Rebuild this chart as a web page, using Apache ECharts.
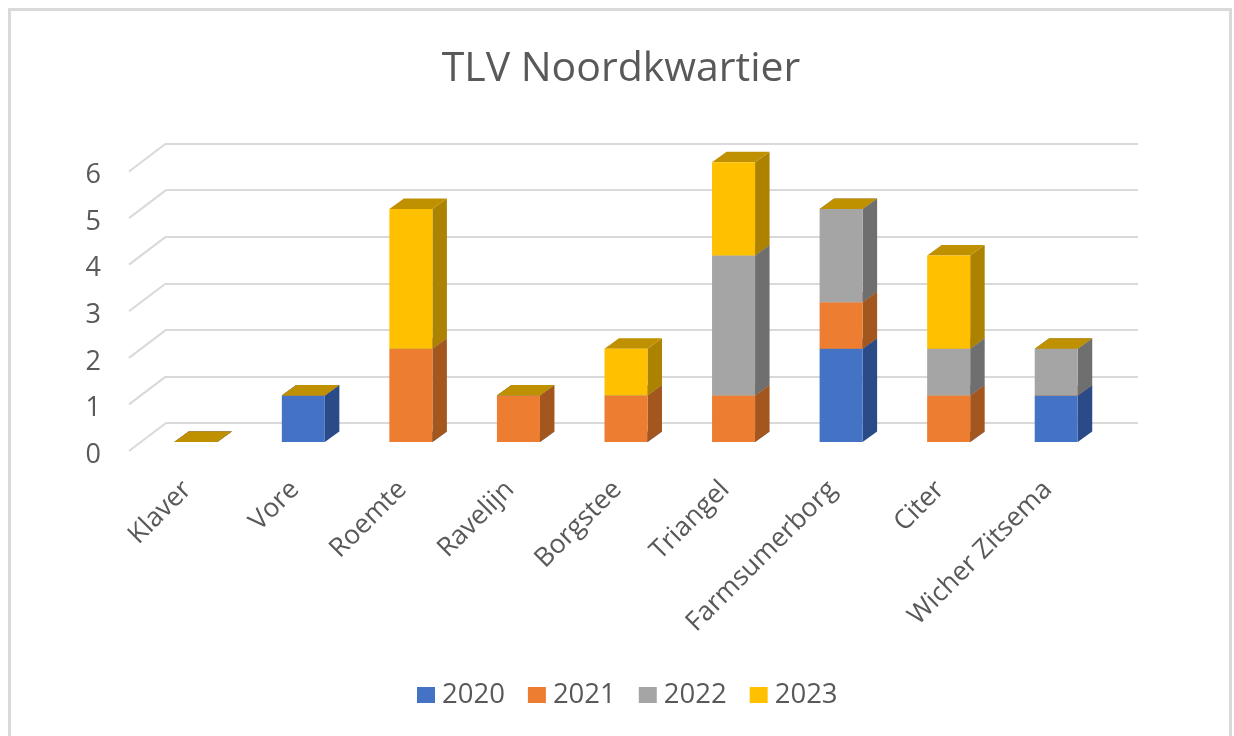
<!DOCTYPE html>
<html>
<head>
<meta charset="utf-8">
<title>TLV Noordkwartier</title>
<script src="https://cdn.jsdelivr.net/npm/echarts@6/dist/echarts.min.js"></script>
<style>
  html, body { margin: 0; padding: 0; background: #fff; }
  #chart { width: 1234px; height: 736px; }
</style>
</head>
<body>
<div id="chart"></div>
<script>
const categories = ['Klaver', 'Vore', 'Roemte', 'Ravelijn', 'Borgstee', 'Triangel', 'Farmsumerborg', 'Citer', 'Wicher Zitsema']
const years = ['2020', '2021', '2022', '2023']
const values2020 = [0, 1, 0, 0, 0, 0, 2, 0, 1]
const values2021 = [0, 0, 2, 1, 1, 1, 1, 1, 0]
const values2022 = [0, 0, 0, 0, 0, 3, 2, 1, 1]
const values2023 = [0, 0, 3, 0, 1, 2, 0, 2, 0]
const yTicks = [0, 1, 2, 3, 4, 5, 6]

const allValues = [values2020, values2021, values2022, values2023]
const frontColors = ['#4472C4', '#ED7D31', '#A5A5A5', '#FFC000']
const sideColors = ['#2A4B87', '#A4561F', '#6F6F6F', '#AD8200']
const topColors = ['#345A9E', '#BC6326', '#848484', '#BF9000']

const textColor = '#595959'
const fontName = '"Open Sans", sans-serif'
// bar depth and wall depth in pixels, this is the fake 3D
const barDepth = [14.5, -10.5]
const wallDepth = [37, -28]

// one stacked year: front face, side face and top face
function barItem (yearIndex) {
  return function (params, api) {
    const i = api.value(0)
    let base = 0
    for (let k = 0; k < yearIndex; k++) base += allValues[k][i]
    const top = base + allValues[yearIndex][i]
    const center = api.coord([i, 0])[0]
    const halfW = api.size([1, 0])[0] * 0.2
    const yBase = api.coord([i, base])[1]
    const yTop = api.coord([i, top])[1]
    const l = center - halfW
    const r = center + halfW
    const dx = barDepth[0]
    const dy = barDepth[1]
    const children = [{
      type: 'polygon',
      shape: { points: [[r, yBase], [r + dx, yBase + dy], [r + dx, yTop + dy], [r, yTop]] },
      style: { fill: sideColors[yearIndex] }
    }, {
      type: 'polygon',
      shape: { points: [[l, yTop], [r, yTop], [r + dx, yTop + dy], [l + dx, yTop + dy]] },
      style: { fill: topColors[yearIndex] }
    }]
    if (top > base) {
      children.push({
        type: 'rect',
        shape: { x: l, y: yTop, width: r - l, height: yBase - yTop },
        style: { fill: frontColors[yearIndex] }
      })
    }
    return { type: 'group', children: children }
  }
}

// the slanted lines on the left wall
function wallItem (params, api) {
  const p = api.coord([0, api.value(0)])
  return {
    type: 'line',
    shape: { x1: p[0], y1: p[1], x2: p[0] + wallDepth[0], y2: p[1] + wallDepth[1] },
    style: { stroke: '#D9D9D9', lineWidth: 2 }
  }
}

const barSeries = years.map(function (year, n) {
  return {
    name: year,
    type: 'custom',
    xAxisIndex: 0,
    yAxisIndex: 0,
    z: 5 + n,
    itemStyle: { color: frontColors[n] },
    renderItem: barItem(n),
    encode: { x: 0, y: 1 },
    data: categories.map(function (c, i) { return [i, allValues[n][i]] })
  }
})

const chart = echarts.init(document.getElementById('chart'))
chart.setOption({
  animation: false,
  backgroundColor: '#fff',
  title: {
    text: 'TLV Noordkwartier',
    left: 616,
    top: 64,
    textAlign: 'center',
    textVerticalAlign: 'middle',
    textStyle: { color: textColor, fontFamily: fontName, fontSize: 41, fontWeight: 'normal' }
  },
  legend: {
    data: years,
    left: 417,
    top: 681,
    padding: 0,
    icon: 'rect',
    itemWidth: 18,
    itemHeight: 16,
    itemGap: 23,
    textStyle: { color: textColor, fontFamily: fontName, fontSize: 27.5, padding: [0, 0, 0, 2] }
  },
  graphic: [{
    type: 'rect',
    silent: true,
    shape: { x: 9.5, y: 9.5, width: 1221, height: 800 },
    style: { fill: 'none', stroke: '#D9D9D9', lineWidth: 3 }
  }],
  grid: [
    // bars
    { left: 142, width: 968, top: 162.3, height: 279.7 },
    // back wall
    { left: 166, width: 972, top: 143.5, height: 279.5 },
    // slanted edge lines
    { left: 129, width: 37, top: 171.5, height: 279.5 },
    // tick labels, they sit a bit below the edge lines
    { left: 129, width: 37, top: 175.5, height: 279.5 }
  ],
  xAxis: [{
    type: 'category',
    gridIndex: 0,
    data: categories,
    axisLine: { show: false },
    axisTick: { show: false },
    axisLabel: {
      interval: 0,
      rotate: 45,
      margin: 35,
      padding: [0, 12, 0, 0],
      color: textColor,
      fontFamily: fontName,
      fontSize: 26.5
    }
  }, {
    type: 'value',
    gridIndex: 1,
    show: false
  }, {
    type: 'value',
    gridIndex: 2,
    min: 0,
    max: 1,
    show: false
  }, {
    type: 'value',
    gridIndex: 3,
    show: false
  }],
  yAxis: [{
    type: 'value',
    gridIndex: 0,
    min: 0,
    max: 6,
    show: false
  }, {
    type: 'value',
    gridIndex: 1,
    min: 0,
    max: 6,
    interval: 1,
    axisLine: { show: false },
    axisTick: { show: false },
    axisLabel: { show: false },
    splitLine: { show: true, lineStyle: { color: '#D9D9D9', width: 2 } }
  }, {
    type: 'value',
    gridIndex: 2,
    min: 0,
    max: 6,
    show: false
  }, {
    type: 'value',
    gridIndex: 3,
    min: 0,
    max: 6,
    interval: 1,
    axisLine: { show: false },
    axisTick: { show: false },
    splitLine: { show: false },
    axisLabel: {
      margin: 28,
      color: textColor,
      fontFamily: fontName,
      fontSize: 27
    }
  }],
  series: [{
    type: 'custom',
    xAxisIndex: 2,
    yAxisIndex: 2,
    z: 1,
    renderItem: wallItem,
    encode: { y: 0 },
    data: yTicks.map(function (v) { return [v] })
  }].concat(barSeries)
})
</script>
</body>
</html>
